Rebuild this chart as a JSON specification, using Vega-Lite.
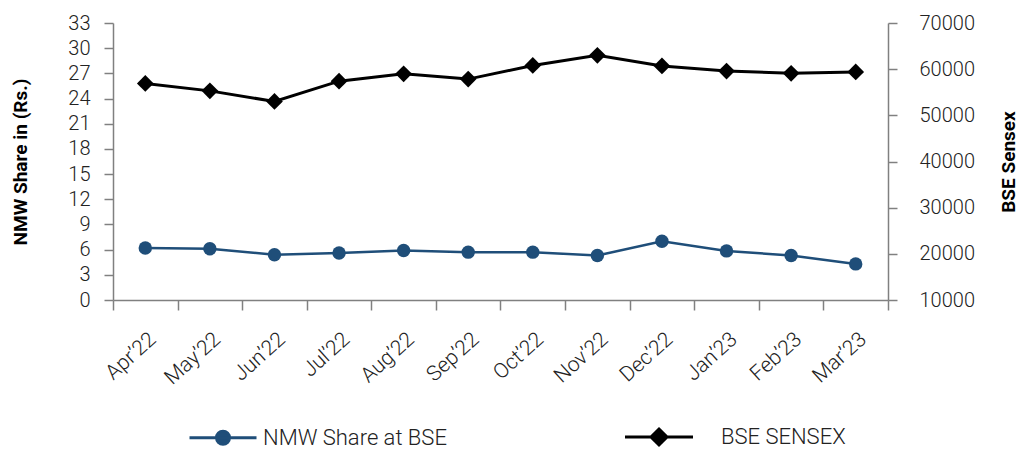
{
  "$schema": "https://vega.github.io/schema/vega-lite/v6.json",
  "width": 775,
  "height": 277,
  "autosize": {"type": "none"},
  "padding": {"left": 113, "top": 23, "right": 139, "bottom": 149},
  "config": {
    "view": {"stroke": null},
    "font": "Roboto",
    "axis": {
      "domainColor": "#808080",
      "tickColor": "#808080",
      "domainWidth": 1.5,
      "tickWidth": 1.5,
      "grid": false,
      "labelFont": "Roboto",
      "labelFontWeight": 300,
      "labelColor": "#222222",
      "titleFont": "Roboto",
      "titleColor": "#000000"
    }
  },
  "data": {
    "values": [
      {"month": "Apr’22", "nmw": 6.2, "sensex": 56900},
      {"month": "May’22", "nmw": 6.1, "sensex": 55300},
      {"month": "Jun’22", "nmw": 5.4, "sensex": 53000},
      {"month": "Jul’22", "nmw": 5.6, "sensex": 57400},
      {"month": "Aug’22", "nmw": 5.9, "sensex": 59000},
      {"month": "Sep’22", "nmw": 5.7, "sensex": 57850},
      {"month": "Oct’22", "nmw": 5.7, "sensex": 60800},
      {"month": "Nov’22", "nmw": 5.3, "sensex": 63000},
      {"month": "Dec’22", "nmw": 7.0, "sensex": 60700},
      {"month": "Jan’23", "nmw": 5.85, "sensex": 59600},
      {"month": "Feb’23", "nmw": 5.3, "sensex": 59100},
      {"month": "Mar’23", "nmw": 4.3, "sensex": 59400}
    ]
  },
  "encoding": {
    "x": {
      "field": "month",
      "type": "ordinal",
      "sort": null,
      "bandPosition": 0.5,
      "scale": {"type": "band", "paddingInner": 0, "paddingOuter": 0},
      "axis": {
        "title": null,
        "tickBand": "extent",
        "tickSize": 10,
        "labelAngle": -42,
        "labelFontSize": 21,
        "labelPadding": 18
      }
    }
  },
  "layer": [
    {
      "encoding": {
        "y": {
          "field": "nmw",
          "type": "quantitative",
          "scale": {"domain": [0, 33], "nice": false, "zero": false},
          "axis": {
            "orient": "left",
            "values": [0, 3, 6, 9, 12, 15, 18, 21, 24, 27, 30, 33],
            "title": "NMW Share in (Rs.)",
            "titleFontSize": 19,
            "titleFontWeight": "bold",
            "titlePadding": 37,
            "tickSize": 9,
            "labelFontSize": 20,
            "labelPadding": 14
          }
        },
        "color": {
          "datum": "NMW Share at BSE",
          "scale": {"domain": ["NMW Share at BSE", "BSE SENSEX"], "range": ["#1F4E79", "#000000"]},
          "legend": {
            "orient": "none",
            "legendX": 99,
            "legendY": 403,
            "direction": "horizontal",
            "columns": 2,
            "title": null,
            "padding": 0,
            "symbolSize": 100,
            "labelOffset": 29,
            "labelLimit": 400,
            "columnPadding": 172,
            "labelFont": "Roboto",
            "labelFontWeight": 300,
            "labelFontSize": 22,
            "labelColor": "#222222",
            "encode": {
              "symbols": {
                "update": {
                  "shape": {"signal": "datum.value === 'BSE SENSEX' ? 'M-6.8,0H6.8M0,-1.6L1.6,0L0,1.6L-1.6,0Z' : 'M-6.7,0H6.7M1.3,0A1.3,1.3,0,1,1,-1.3,0A1.3,1.3,0,1,1,1.3,0Z'"},
                  "fill": {"signal": "datum.value === 'BSE SENSEX' ? '#000000' : '#1F4E79'"},
                  "stroke": {"signal": "datum.value === 'BSE SENSEX' ? '#000000' : '#1F4E79'"},
                  "strokeWidth": {"value": 3},
                  "opacity": {"value": 1},
                  "fillOpacity": {"value": 1},
                  "strokeOpacity": {"value": 1}
                }
              },
              "labels": {
                "update": {
                  "dx": {"signal": "datum.value === 'BSE SENSEX' ? 22 : 0"}
                }
              }
            }
          }
        }
      },
      "layer": [
        {"mark": {"type": "line", "strokeWidth": 2.5}},
        {"mark": {"type": "point", "shape": "circle", "filled": true, "size": 180, "opacity": 1}}
      ]
    },
    {
      "encoding": {
        "y": {
          "field": "sensex",
          "type": "quantitative",
          "scale": {"domain": [10000, 70000], "nice": false, "zero": false},
          "axis": {
            "orient": "right",
            "values": [10000, 20000, 30000, 40000, 50000, 60000, 70000],
            "format": "d",
            "title": "BSE Sensex",
            "titleAngle": 270,
            "titleFontSize": 19,
            "titleFontWeight": "bold",
            "titlePadding": 44,
            "tickSize": 9,
            "labelFontSize": 20,
            "labelPadding": 22
          }
        },
        "color": {"datum": "BSE SENSEX"}
      },
      "layer": [
        {"mark": {"type": "line", "strokeWidth": 3}},
        {"mark": {"type": "point", "shape": "diamond", "filled": true, "size": 280, "opacity": 1}}
      ]
    }
  ],
  "resolve": {"scale": {"y": "independent"}}
}
